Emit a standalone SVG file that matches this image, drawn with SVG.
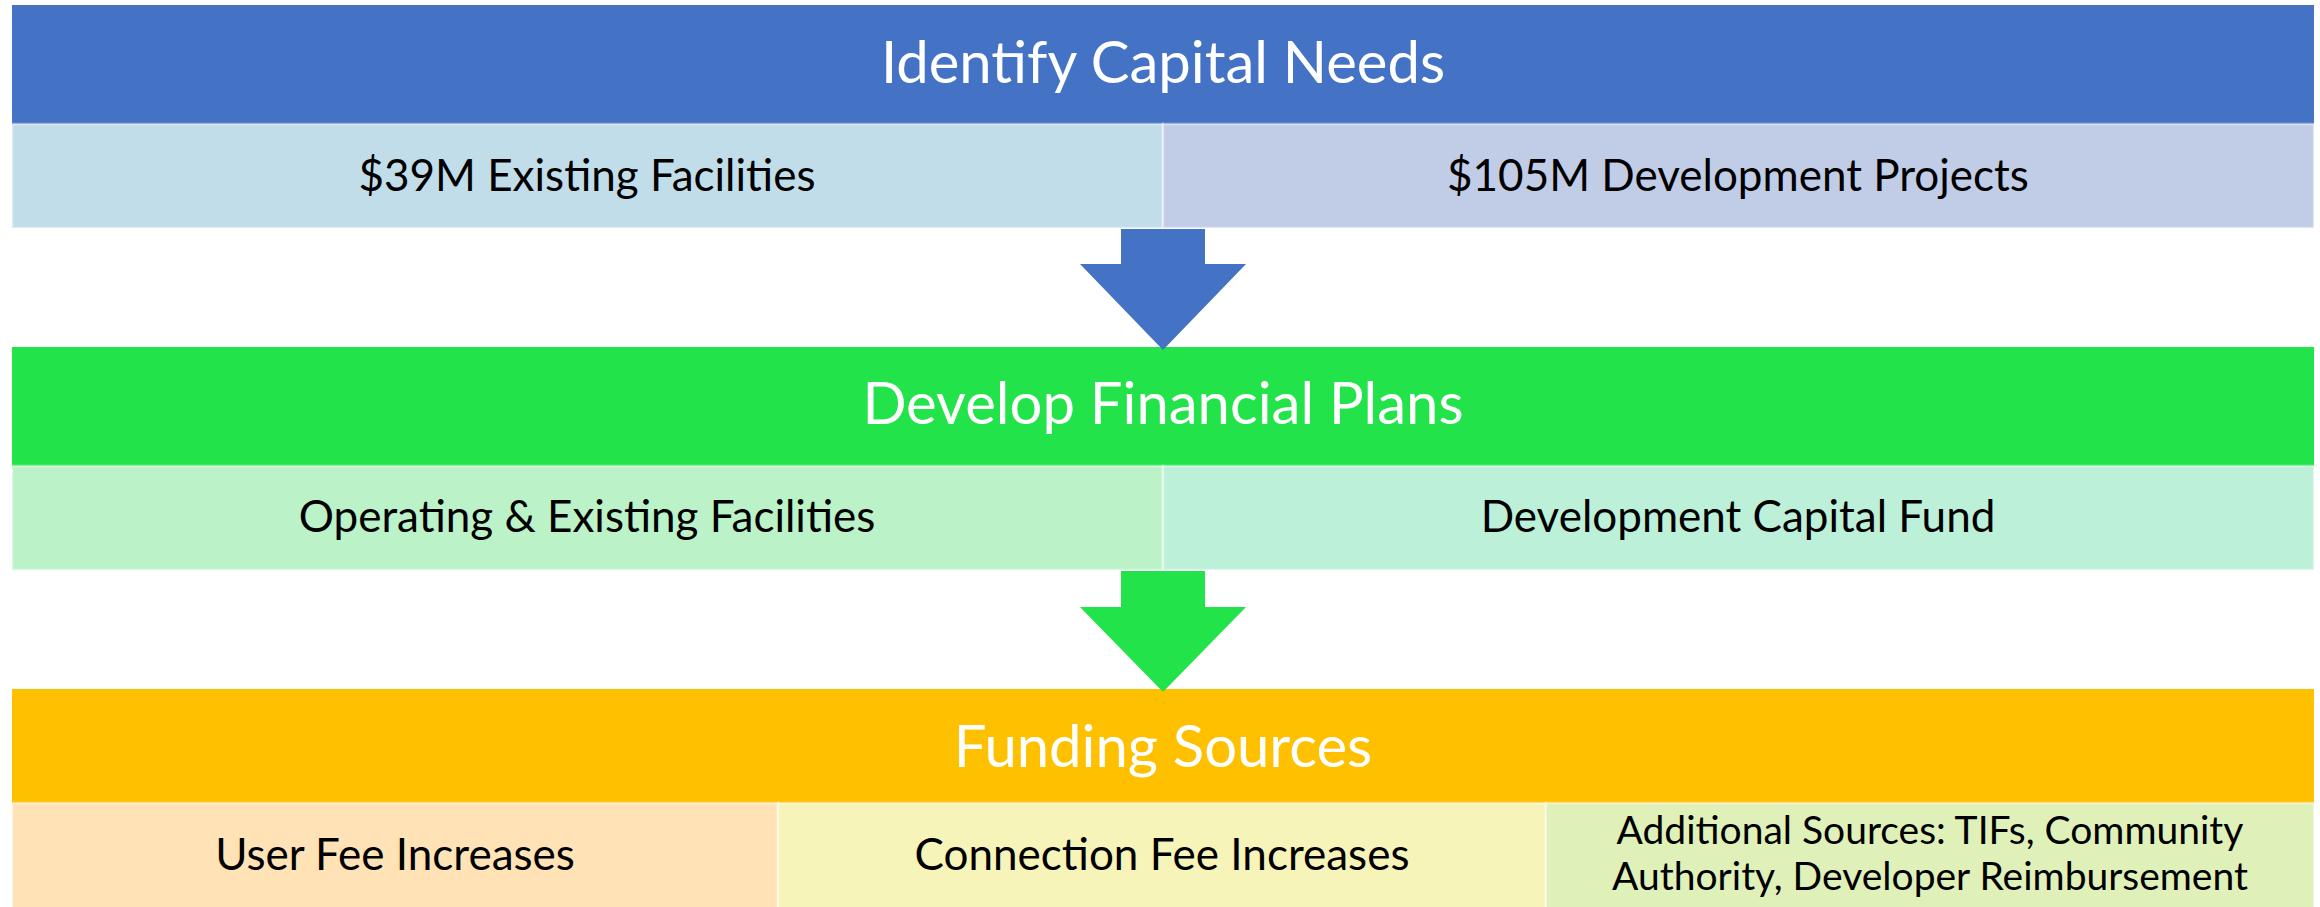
<svg xmlns="http://www.w3.org/2000/svg" width="2320" height="907" viewBox="0 0 2320 907">
  <style>
    .hdr { font-family: Lato, "Open Sans", "Liberation Sans", sans-serif; font-size: 58px; fill: #ffffff; text-anchor: middle; }
    .sub { font-family: Lato, "Open Sans", "Liberation Sans", sans-serif; font-size: 44px; fill: #000000; text-anchor: middle; }
    .sub.small { font-size: 39px; }
    .cell { stroke: #ffffff; stroke-opacity: 0.45; stroke-width: 2.5; }
  </style>
  <rect width="2320" height="907" fill="#ffffff"/>

  <!-- Stage 1 -->
  <g id="identify-capital-needs">
    <rect x="12" y="5" width="2302" height="119" fill="#4472C4"/>
    <text class="hdr" x="1163" y="83">Identify Capital Needs</text>
  </g>
  <g id="existing-facilities">
    <rect class="cell" x="12" y="124" width="1151" height="104" fill="#C0DDE9"/>
    <text class="sub" x="587" y="191">$39M Existing Facilities</text>
  </g>
  <g id="development-projects">
    <rect class="cell" x="1163" y="124" width="1151" height="104" fill="#C1CCE6"/>
    <text class="sub" x="1738" y="191">$105M Development Projects</text>
  </g>

  <!-- Stage 2 -->
  <g id="develop-financial-plans">
    <rect x="12" y="347" width="2302" height="119" fill="#23E34A"/>
    <text class="hdr" x="1163" y="424">Develop Financial Plans</text>
  </g>
  <g id="operating-existing">
    <rect class="cell" x="12" y="466" width="1151" height="104" fill="#BBF2C8"/>
    <text class="sub" x="587" y="532">Operating &amp; Existing Facilities</text>
  </g>
  <g id="development-capital-fund">
    <rect class="cell" x="1163" y="466" width="1151" height="104" fill="#BCF0D9"/>
    <text class="sub" x="1738" y="532">Development Capital Fund</text>
  </g>

  <!-- Stage 3 -->
  <g id="funding-sources">
    <rect x="12" y="689" width="2302" height="114" fill="#FFC000"/>
    <text class="hdr" x="1163" y="767">Funding Sources</text>
  </g>
  <g id="user-fee">
    <rect class="cell" x="12" y="803" width="766" height="106" fill="#FFE3B7"/>
    <text class="sub" x="395" y="870">User Fee Increases</text>
  </g>
  <g id="connection-fee">
    <rect class="cell" x="778" y="803" width="768" height="106" fill="#F6F4B8"/>
    <text class="sub" x="1162" y="870">Connection Fee Increases</text>
  </g>
  <g id="additional-sources">
    <rect class="cell" x="1546" y="803" width="768" height="106" fill="#DFF0B9"/>
    <text class="sub small" x="1930" y="844">Additional Sources: TIFs, Community</text>
    <text class="sub small" x="1930" y="890">Authority, Developer Reimbursement</text>
  </g>

  <!-- Block arrows between stages -->
  <g id="connectors">
    <polygon points="1121,229 1205,229 1205,264 1246,264 1163,350 1080,264 1121,264" fill="#4472C4"/>
    <polygon points="1121,571 1205,571 1205,607 1246,607 1163,692 1080,607 1121,607" fill="#23E34A"/>
  </g>
</svg>
